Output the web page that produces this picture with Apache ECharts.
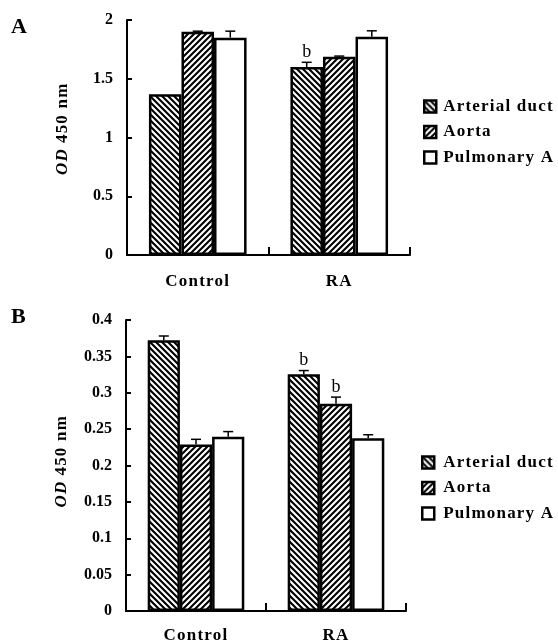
<!DOCTYPE html>
<html><head><meta charset="utf-8">
<script src="https://cdn.jsdelivr.net/npm/echarts@6/dist/echarts.min.js"></script>
<style>
html,body{margin:0;padding:0;background:#fff}
#c{width:558px;height:644px}
</style>
</head><body><div id="c"></div>
<script>
// ---- data ----
const categories = ['Control', 'RA'];
const seriesNames = ['Arterial duct', 'Aorta', 'Pulmonary A'];

const aArterial = [1.368, 1.600];
const aAorta = [1.900, 1.688];
const aPulmonary = [1.850, 1.858];
const aArterialErr = [0.000, 0.040];
const aAortaErr = [0.005, 0.005];
const aPulmonaryErr = [0.055, 0.050];
const aArterialSig = ['', 'b'];
const aAortaSig = ['', ''];
const aPulmonarySig = ['', ''];

const bArterial = [0.372, 0.3255];
const bAorta = [0.229, 0.285];
const bPulmonary = [0.2396, 0.2373];
const bArterialErr = [0.006, 0.005];
const bAortaErr = [0.007, 0.009];
const bPulmonaryErr = [0.007, 0.005];
const bArterialSig = ['', 'b'];
const bAortaSig = ['', 'b'];
const bPulmonarySig = ['', ''];

const aTicks = { min: 0, max: 2, interval: 0.5 };
const bTicks = { min: 0, max: 0.4, interval: 0.05 };

// ---- styling ----
const FONT = 'Liberation Serif';
const GAP = 0.31;

// wider letter spacing only for the 17px bold texts (legend, categories, axis name)
(function () {
  const proto = CanvasRenderingContext2D.prototype;
  const orig = proto.fillText;
  proto.fillText = function (t, x, y, w) {
    const has = 'letterSpacing' in this;
    const f = this.font;
    const want = (/bold 17px/.test(f)) ? '1.2px' : '0px';
    if (has) { this.letterSpacing = want; this.font = f; }
    const r = w === undefined ? orig.call(this, t, x, y) : orig.call(this, t, x, y, w);
    if (has && want !== '0px') { this.letterSpacing = '0px'; this.font = f; }
    return r;
  };
})();

function hatch(dir) {
  const s = 6;
  const cv = document.createElement('canvas');
  cv.width = s; cv.height = s;
  const ctx = cv.getContext('2d');
  ctx.fillStyle = '#fff'; ctx.fillRect(0, 0, s, s);
  ctx.strokeStyle = '#000'; ctx.lineWidth = 2.1;
  ctx.beginPath();
  if (dir === 'back') {
    ctx.moveTo(-1, -1); ctx.lineTo(s + 1, s + 1);
    ctx.moveTo(-2, s - 2); ctx.lineTo(2, s + 2);
    ctx.moveTo(s - 2, -2); ctx.lineTo(s + 2, 2);
  } else {
    ctx.moveTo(-1, s + 1); ctx.lineTo(s + 1, -1);
    ctx.moveTo(-2, 2); ctx.lineTo(2, -2);
    ctx.moveTo(s - 2, s + 2); ctx.lineTo(s + 2, s - 2);
  }
  ctx.stroke();
  return { image: cv, repeat: 'repeat' };
}
const fills = [hatch('back'), hatch('fwd'), '#ffffff'];

function barSeries(g, name, vals, k) {
  return {
    type: 'bar', name: name, xAxisIndex: g, yAxisIndex: g, data: vals,
    barGap: '0%', barCategoryGap: (GAP * 100) + '%',
    itemStyle: { color: fills[k], borderColor: '#000', borderWidth: 2.5 },
    emphasis: { disabled: true }, z: 2
  };
}
function errSeries(g, vals, errs, sig, k) {
  return {
    type: 'custom', xAxisIndex: g, yAxisIndex: g, silent: true, z: 5,
    data: vals.map((v, i) => [i, v, errs[i]]),
    encode: { x: 0, y: 1 },
    renderItem: function (params, api) {
      const c = api.value(0), v = api.value(1), e = api.value(2);
      const band = api.size([1, 0])[0];
      const bw = band * (1 - GAP) / 3;
      const p = api.coord([c, v]);
      const x = p[0] + (k - 1) * bw;
      const yTop = api.coord([c, v + e])[1];
      const ch = [];
      if (e > 0) {
        ch.push({ type: 'line', shape: { x1: x, y1: p[1], x2: x, y2: yTop }, style: { stroke: '#000', lineWidth: 1.5 } });
        ch.push({ type: 'line', shape: { x1: x - 5, y1: yTop, x2: x + 5, y2: yTop }, style: { stroke: '#000', lineWidth: 1.5 } });
      }
      const s = sig[params.dataIndex];
      if (s) {
        ch.push({ type: 'text', x: x, y: yTop - 1, style: { text: s, fill: '#000', font: '18px ' + FONT, align: 'center', verticalAlign: 'bottom' } });
      }
      return { type: 'group', children: ch };
    }
  };
}

function yAxis(g, t, shift) {
  return {
    type: 'value', gridIndex: g, min: t.min, max: t.max, interval: t.interval,
    name: '{i|OD}  450 nm', nameLocation: 'middle', nameGap: 56,
    nameTextStyle: { fontFamily: FONT, fontWeight: 'bold', fontSize: 17, color: '#000', padding: [0, 0, 0, shift],
      rich: { i: { fontFamily: FONT, fontWeight: 'bold', fontStyle: 'italic', fontSize: 17, color: '#000' } } },
    axisLine: { show: true, lineStyle: { color: '#000', width: 2 } },
    axisTick: { show: true, inside: true, length: 5, lineStyle: { color: '#000', width: 2 } },
    axisLabel: { fontFamily: FONT, fontWeight: 'bold', fontSize: 16, color: '#000', margin: 14 },
    splitLine: { show: false }
  };
}
function xAxis(g, margin) {
  return {
    type: 'category', gridIndex: g, data: categories,
    axisLine: { show: true, lineStyle: { color: '#000', width: 2 } },
    axisTick: { show: true, inside: true, length: 8, interval: 0, lineStyle: { color: '#000', width: 2 } },
    axisLabel: { fontFamily: FONT, fontWeight: 'bold', fontSize: 17, color: '#000', margin: margin }
  };
}
function legend(left, top, pad) {
  return {
    orient: 'vertical', left: left, top: top, icon: 'rect', padding: 0,
    itemWidth: 12, itemHeight: 12, itemGap: 8.5,
    itemStyle: { borderColor: '#000', borderWidth: 2.5 },
    textStyle: { fontFamily: FONT, fontWeight: 'bold', fontSize: 17, color: '#000', lineHeight: 17, padding: [0, 0, 0, pad] },
    data: seriesNames, selectedMode: false
  };
}

const chart = echarts.init(document.getElementById('c'), null, { renderer: 'canvas' });
chart.setOption({
  animation: false,
  backgroundColor: '#fff',
  grid: [
    { left: 127, right: 148, top: 20, bottom: 389 },
    { left: 126, right: 152, top: 320, bottom: 27 }
  ],
  xAxis: [xAxis(0, 18), xAxis(1, 16)],
  yAxis: [yAxis(0, aTicks, 14), yAxis(1, bTicks, 5)],
  legend: [legend(423, 98, 2), legend(421, 454, 4)],
  graphic: [
    { type: 'text', left: 11, top: 16, style: { text: 'A', font: 'bold 22px ' + FONT, fill: '#000' } },
    { type: 'text', left: 11, top: 306, style: { text: 'B', font: 'bold 22px ' + FONT, fill: '#000' } }
  ],
  series: [
    barSeries(0, seriesNames[0], aArterial, 0),
    barSeries(0, seriesNames[1], aAorta, 1),
    barSeries(0, seriesNames[2], aPulmonary, 2),
    errSeries(0, aArterial, aArterialErr, aArterialSig, 0),
    errSeries(0, aAorta, aAortaErr, aAortaSig, 1),
    errSeries(0, aPulmonary, aPulmonaryErr, aPulmonarySig, 2),
    barSeries(1, seriesNames[0], bArterial, 0),
    barSeries(1, seriesNames[1], bAorta, 1),
    barSeries(1, seriesNames[2], bPulmonary, 2),
    errSeries(1, bArterial, bArterialErr, bArterialSig, 0),
    errSeries(1, bAorta, bAortaErr, bAortaSig, 1),
    errSeries(1, bPulmonary, bPulmonaryErr, bPulmonarySig, 2)
  ]
});
</script>
</body></html>
